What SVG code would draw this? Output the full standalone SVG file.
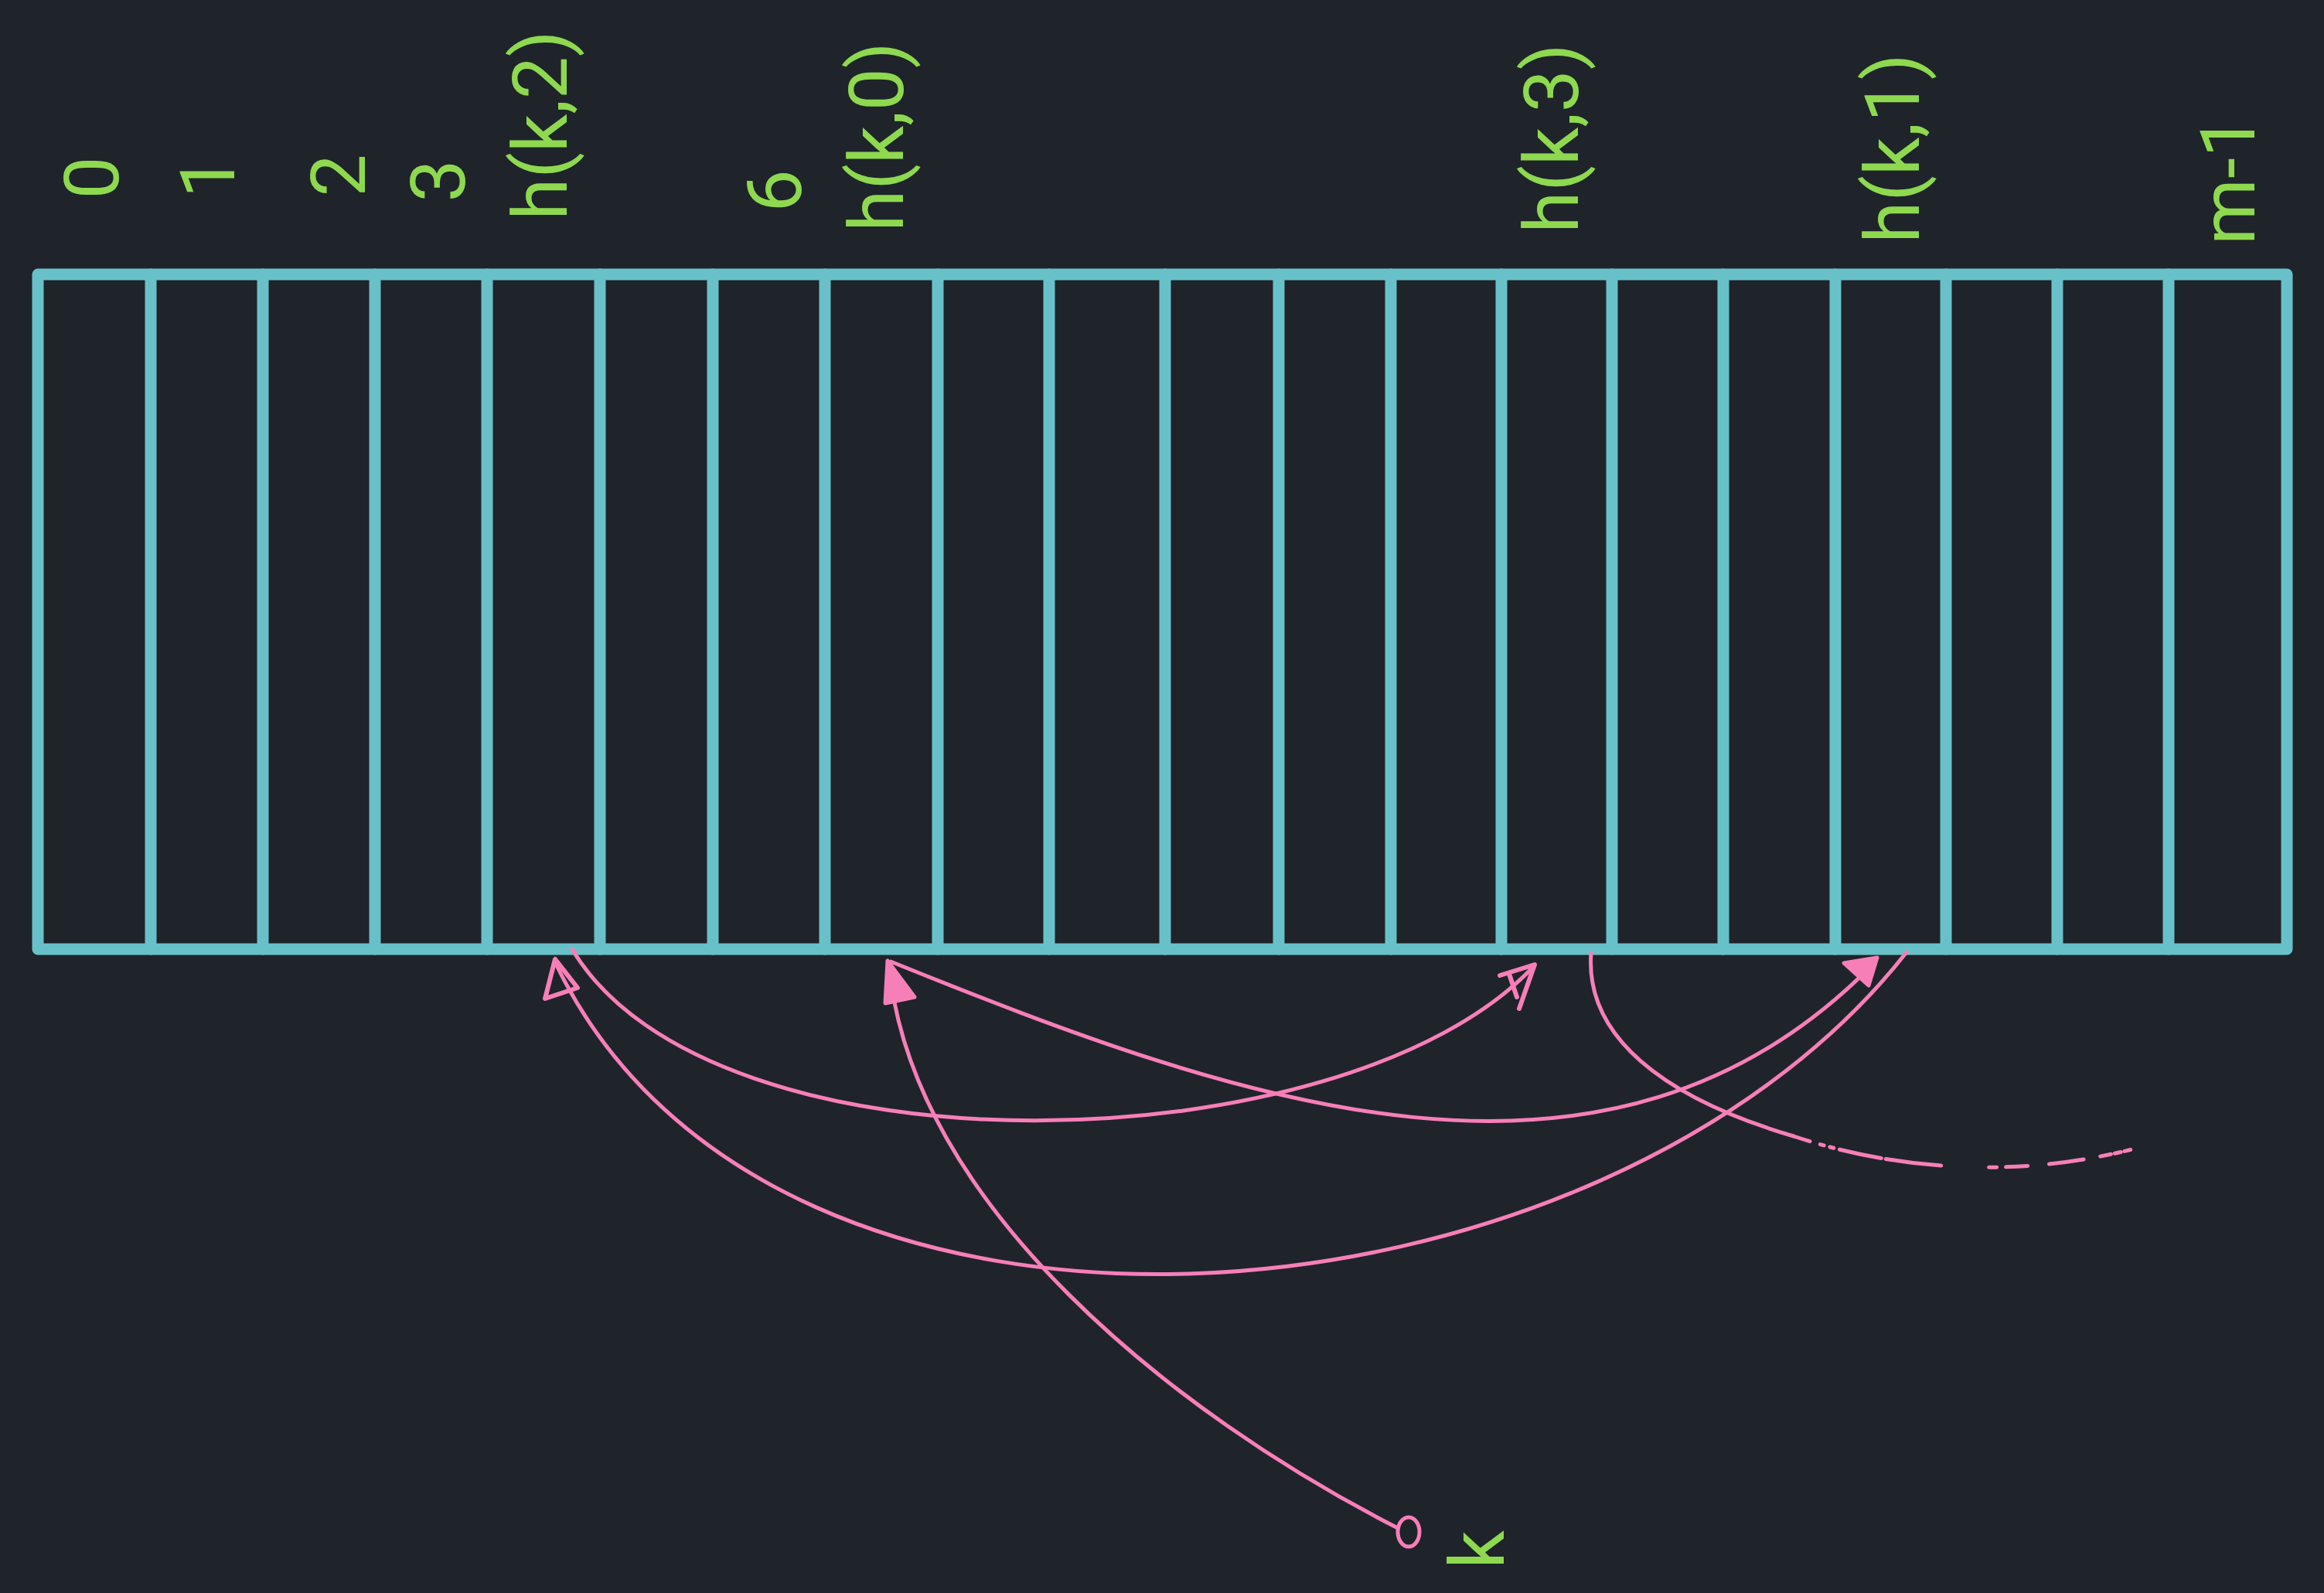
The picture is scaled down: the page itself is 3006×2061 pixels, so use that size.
<svg xmlns="http://www.w3.org/2000/svg" width="3006" height="2061" viewBox="0 0 3006 2061">
<style>
.bg{fill:#1f242a}
.grid{fill:none;stroke:#68c1c8;stroke-width:15;stroke-linecap:round;stroke-linejoin:round}
.lbl{font-family:Roboto,"Liberation Sans",Inter,sans-serif;font-size:98px;fill:#8ed94f;text-anchor:middle}
.con{fill:none;stroke:#f77fb7;stroke-width:5;stroke-linecap:round;stroke-linejoin:round}
.head{fill:#f77fb7;stroke:#f77fb7;stroke-width:5;stroke-linejoin:round}
.headopen{fill:none;stroke:#f77fb7;stroke-width:6;stroke-linejoin:round;stroke-linecap:round}
</style>
<rect class="bg" x="0" y="0" width="3006" height="2061"/>
<g id="array">
<path class="grid" d="M49,355 L2958,355 L2958,1228 L49,1228 Z"/>
<path class="grid" d="M195,355V1228M340,355V1228M485,355V1228M630,355V1228M776,355V1228M922,355V1228M1067,355V1228M1213,355V1228M1357,355V1228M1507,355V1228M1654,355V1228M1799,355V1228M1942,355V1228M2085,355V1228M2229,355V1228M2374,355V1228M2517,355V1228M2661,355V1228M2805,355V1228"/>
</g>
<g id="labels">
<g id="label-0"><text class="lbl" transform="translate(153,230) rotate(-90)">0</text></g>
<g id="label-1"><text class="lbl" transform="translate(303,229) rotate(-90)">1</text></g>
<g id="label-2"><text class="lbl" transform="translate(472,227) rotate(-90)">2</text></g>
<g id="label-3"><text class="lbl" transform="translate(601,234) rotate(-90)">3</text></g>
<g id="label-hk2"><text class="lbl" transform="translate(733,162) rotate(-90)">h(k,2)</text></g>
<g id="label-6"><text class="lbl" transform="translate(1036,247) rotate(-90)">6</text></g>
<g id="label-hk0"><text class="lbl" transform="translate(1168,177) rotate(-90)">h(k,0)</text></g>
<g id="label-hk3"><text class="lbl" transform="translate(2041,179) rotate(-90)">h(k,3)</text></g>
<g id="label-hk1"><text class="lbl" transform="translate(2482,192) rotate(-90)">h(k,1)</text></g>
<g id="label-m1"><text class="lbl" transform="translate(2916,233) rotate(-90)">m-1</text></g>
<g id="label-k"><text class="lbl" transform="translate(1945,2005) rotate(-90)">k</text></g>
</g>
<g id="key-node">
<ellipse class="con" cx="1822" cy="1982" rx="14" ry="19"/>
</g>
<g id="connectors">
<path class="con" d="M1808,1977 C1520,1830 1180,1560 1150,1250"/>
<path class="head" d="M1148,1243 L1145,1298 L1183,1290 Z"/>
<path class="con" d="M740,1228 C920,1530 1740,1510 1984,1250"/>
<path class="headopen" d="M1940,1262 L1985,1248 L1965,1305 M1952,1260 L1962,1290"/>
<path class="con" d="M1152,1244 C1600,1425 2081,1600 2426,1244"/>
<path class="head" d="M2428,1239 L2385,1246 L2417,1275 Z"/>
<path class="con" d="M2466,1232 C2070,1737 1000,1830 719,1247"/>
<path class="headopen" d="M718,1241 L705,1292 L747,1278 Z"/>
<path class="con" d="M2058,1233 C2050,1340 2150,1420 2320,1470"/>
<path class="con" stroke-width="7" stroke-dasharray="22 14 5 8 5 8 55 6 72 62 10 12 28 28 45" d="M2320,1470 C2440,1510 2600,1530 2773,1483"/>
</g>
</svg>
